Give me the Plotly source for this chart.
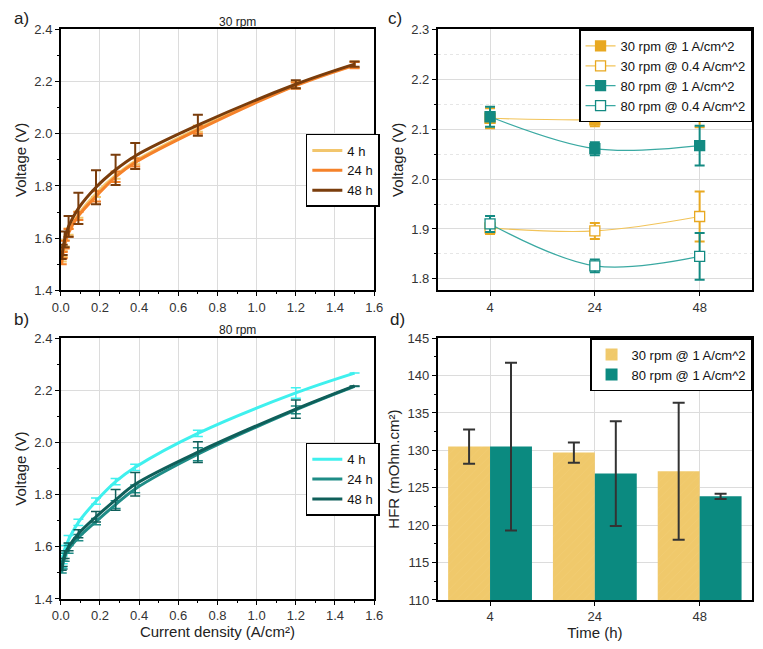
import plotly.graph_objects as go

W, H = 763, 649

# ---------------- data ----------------
current = [0.005, 0.01, 0.02, 0.04, 0.09, 0.18, 0.28, 0.38, 0.7, 1.2, 1.5]

a_4h = [1.51, 1.54, 1.58, 1.625, 1.69, 1.77, 1.84, 1.895, 2.02, 2.187, 2.265]
a_24h = [1.50, 1.535, 1.575, 1.62, 1.685, 1.76, 1.835, 1.89, 2.015, 2.185, 2.263]
a_48h = [1.52, 1.555, 1.595, 1.645, 1.714, 1.795, 1.862, 1.915, 2.033, 2.19, 2.267]
a_4h_err = [0, 0.012, 0.012, 0.012, 0.012, 0.012, 0.012, 0.012, 0.012, 0.012, 0.012]
a_24h_err = [0, 0.012, 0.015, 0.015, 0.015, 0.02, 0.02, 0.015, 0.015, 0.012, 0.012]
a_48h_err = [0, 0.02, 0.03, 0.04, 0.06, 0.065, 0.058, 0.05, 0.04, 0.015, 0.01]

b_4h = [1.52, 1.55, 1.59, 1.628, 1.694, 1.775, 1.85, 1.905, 2.035, 2.19, 2.266]
b_24h = [1.50, 1.53, 1.56, 1.59, 1.635, 1.697, 1.762, 1.822, 1.955, 2.125, 2.215]
b_48h = [1.51, 1.54, 1.57, 1.60, 1.65, 1.715, 1.78, 1.84, 1.963, 2.128, 2.217]
b_4h_err = [0, 0.015, 0.015, 0.015, 0.012, 0.012, 0.012, 0.012, 0.012, 0.02, 0]
b_24h_err = [0, 0.015, 0.015, 0.015, 0.012, 0.012, 0.015, 0.015, 0.025, 0.015, 0]
b_48h_err = [0, 0.015, 0.015, 0.015, 0.015, 0.02, 0.04, 0.045, 0.04, 0.035, 0]

time_cats = ["4", "24", "48"]
c_30_1 = [2.122, 2.119, 2.130]
c_30_1_err = [0.02, 0.013, 0.026]
c_30_04 = [1.902, 1.896, 1.925]
c_30_04_err = [0.012, 0.016, 0.05]
c_80_1 = [2.125, 2.061, 2.067]
c_80_1_err = [0.02, 0.013, 0.04]
c_80_04 = [1.910, 1.826, 1.845]
c_80_04_err = [0.016, 0.013, 0.047]

hfr_30 = [130.5, 129.7, 127.2]
hfr_30_err = [2.3, 1.35, 9.15]
hfr_80 = [130.5, 126.9, 123.85]
hfr_80_err = [11.2, 7.0, 0.35]

# ---------------- colours ----------------
A_COL = ["#F2C66D", "#F5822A", "#7A3D0C"]
B_COL = ["#3FF0EE", "#1E8C86", "#0F5F5A"]
C30 = "#E8A820"
C30L = "#F2C45A"
C80 = "#138A82"
C80L = "#3AA9A2"
BAR30 = "#F0C96B"
BAR80 = "#0B8A80"


def px(x):
    return x / W


def py(y):
    return 1 - y / H


fig = go.Figure()

labels = ["4 h", "24 h", "48 h"]
for vals, errs, col, lab in zip([a_4h, a_24h, a_48h], [a_4h_err, a_24h_err, a_48h_err], A_COL, labels):
    fig.add_trace(go.Scatter(
        x=current, y=vals, mode="lines", name=lab, legend="legend",
        line=dict(color=col, width=3, shape="spline"),
        error_y=dict(type="data", array=errs, visible=True, color=col, thickness=2, width=5),
        xaxis="x", yaxis="y"))

for vals, errs, col, lab in zip([b_4h, b_24h, b_48h], [b_4h_err, b_24h_err, b_48h_err], B_COL, labels):
    fig.add_trace(go.Scatter(
        x=current, y=vals, mode="lines", name=lab, legend="legend2",
        line=dict(color=col, width=3, shape="spline"),
        error_y=dict(type="data", array=errs, visible=True, color=col, thickness=1.5, width=5),
        xaxis="x2", yaxis="y2"))

c_series = [
    ("30 rpm @ 1 A/cm^2", c_30_1, c_30_1_err, C30, C30L, True),
    ("30 rpm @ 0.4 A/cm^2", c_30_04, c_30_04_err, C30, C30L, False),
    ("80 rpm @ 1 A/cm^2", c_80_1, c_80_1_err, C80, C80L, True),
    ("80 rpm @ 0.4 A/cm^2", c_80_04, c_80_04_err, C80, C80L, False),
]
for name, vals, errs, col, lcol, filled in c_series:
    fig.add_trace(go.Scatter(
        x=time_cats, y=vals, mode="lines+markers", name=name, legend="legend3",
        line=dict(color=lcol, width=1.2, shape="spline"),
        marker=dict(symbol="square", size=10, color=col if filled else "white",
                    line=dict(color=col, width=1.3)),
        error_y=dict(type="data", array=errs, visible=True, color=col, thickness=2, width=5),
        xaxis="x3", yaxis="y3"))

fig.add_trace(go.Bar(
    x=time_cats, y=[v - 110 for v in hfr_30], base=110, name="30 rpm @ 1 A/cm^2", legend="legend4",
    marker=dict(color=BAR30, line=dict(width=0),
                pattern=dict(shape="/", fgcolor="#F6DB9A", size=6, solidity=0.05)),
    error_y=dict(type="data", array=hfr_30_err, visible=True, color="#333333", thickness=2, width=6),
    offsetgroup="a", xaxis="x4", yaxis="y4"))
fig.add_trace(go.Bar(
    x=time_cats, y=[v - 110 for v in hfr_80], base=110, name="80 rpm @ 1 A/cm^2", legend="legend4",
    marker=dict(color=BAR80, line=dict(width=0)),
    error_y=dict(type="data", array=hfr_80_err, visible=True, color="#333333", thickness=2, width=6),
    offsetgroup="b", xaxis="x4", yaxis="y4"))

tickfont = dict(family="Liberation Sans, Arial", size=13, color="#333333")
titlefont = dict(family="Liberation Sans, Arial", size=15, color="#222222")
common = dict(showline=True, linecolor="black", linewidth=1.5, mirror=True,
              ticks="outside", ticklen=4, tickcolor="black", tickfont=tickfont,
              showgrid=True, gridcolor="#dcdcdc", gridwidth=1, zeroline=False)

# panel positions (pixels)
A = dict(x0=53, x1=374, y0=23, y1=290)
B = dict(x0=53, x1=374, y0=339, y1=606)
C = dict(x0=439, x1=761, y0=23, y1=290)
D = dict(x0=439, x1=761, y0=339, y1=607)

cur_axis = dict(range=[0, 1.6], dtick=0.2, tickformat=".1f",
                minor=dict(ticks="outside", ticklen=2, dtick=0.1, tickcolor="black"), **common)
volt_axis = dict(range=[1.4, 2.4], dtick=0.2, tickformat=".1f",
                 minor=dict(ticks="outside", ticklen=2, dtick=0.1, tickcolor="black"), **common)

leg_common = dict(bgcolor="white", bordercolor="black", borderwidth=1.5,
                  font=dict(family="Liberation Sans, Arial", size=13, color="#111"),
                  tracegroupgap=0, itemwidth=30, traceorder="normal")

fig.update_layout(
    width=W, height=H, margin=dict(l=0, r=0, t=0, b=0),
    paper_bgcolor="white", plot_bgcolor="white",
    font=dict(family="Liberation Sans, Arial", color="#222222"),
    bargap=0.2, bargroupgap=0, barmode="group",
    xaxis=dict(domain=[px(A["x0"]), px(A["x1"])], anchor="y", **cur_axis),
    yaxis=dict(domain=[py(A["y1"]), py(A["y0"])], anchor="x",
               title=dict(text="Voltage (V)", font=titlefont, standoff=4), **volt_axis),
    xaxis2=dict(domain=[px(B["x0"]), px(B["x1"])], anchor="y2",
                title=dict(text="Current density (A/cm²)", font=titlefont, standoff=4), **cur_axis),
    yaxis2=dict(domain=[py(B["y1"]), py(B["y0"])], anchor="x2",
                title=dict(text="Voltage (V)", font=titlefont, standoff=4), **volt_axis),
    xaxis3=dict(domain=[px(C["x0"]), px(C["x1"])], anchor="y3", type="category",
                range=[-0.5, 2.5], **common),
    yaxis3=dict(domain=[py(C["y1"]), py(C["y0"])], anchor="x3", range=[1.777, 2.3], dtick=0.1,
                tickformat=".1f", title=dict(text="Voltage (V)", font=titlefont, standoff=4),
                minor=dict(ticks="outside", ticklen=2, dtick=0.05, showgrid=True,
                           gridcolor="#e6e6e6", griddash="dot", tickcolor="black"), **common),
    xaxis4=dict(domain=[px(D["x0"]), px(D["x1"])], anchor="y4", type="category",
                range=[-0.5, 2.5], title=dict(text="Time (h)", font=titlefont, standoff=4), **common),
    yaxis4=dict(domain=[py(D["y1"]), py(D["y0"])], anchor="x4", range=[110, 145], dtick=5,
                title=dict(text="HFR (mOhm.cm²)", font=titlefont, standoff=4),
                minor=dict(ticks="outside", ticklen=2, dtick=2.5, tickcolor="black"), **common),
    legend=dict(x=px(304), y=py(130), xanchor="left", yanchor="top", **leg_common),
    legend2=dict(x=px(304), y=py(446), xanchor="left", yanchor="top", **leg_common),
    legend3=dict(x=px(761), y=py(23), xanchor="right", yanchor="top", **leg_common),
    legend4=dict(x=px(761), y=py(339), xanchor="right", yanchor="top", **leg_common),
    annotations=[
        dict(text="30 rpm", x=px(213), y=py(15), xref="paper", yref="paper", showarrow=False,
             yanchor="middle", font=dict(size=12, color="#222")),
        dict(text="80 rpm", x=px(213), y=py(331), xref="paper", yref="paper", showarrow=False,
             yanchor="middle", font=dict(size=12, color="#222")),
        dict(text="a)", x=px(3), y=py(12), xref="paper", yref="paper", showarrow=False,
             xanchor="left", yanchor="middle", font=dict(size=17, color="#222")),
        dict(text="b)", x=px(3), y=py(320), xref="paper", yref="paper", showarrow=False,
             xanchor="left", yanchor="middle", font=dict(size=17, color="#222")),
        dict(text="c)", x=px(386), y=py(12), xref="paper", yref="paper", showarrow=False,
             xanchor="left", yanchor="middle", font=dict(size=17, color="#222")),
        dict(text="d)", x=px(388), y=py(320), xref="paper", yref="paper", showarrow=False,
             xanchor="left", yanchor="middle", font=dict(size=17, color="#222")),
    ],
)

fig.write_html("out.html", config={"displayModeBar": False},
               post_script="document.body.style.margin='0px';")
